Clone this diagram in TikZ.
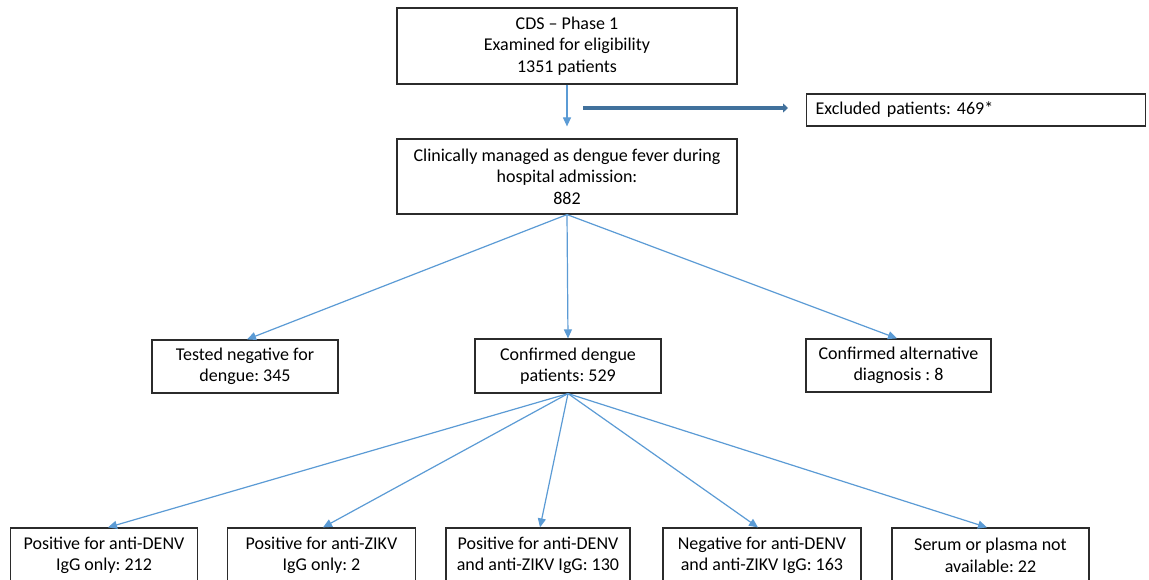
\documentclass[tikz,border=0pt]{standalone}
\usepackage{fontspec}
\setmainfont{Carlito}
\usetikzlibrary{arrows.meta}
\definecolor{arrowblue}{HTML}{5B9BD5}
\definecolor{thickblue}{HTML}{41719C}
\definecolor{boxline}{HTML}{2B2B2B}
\frenchspacing
\begin{document}
\begin{tikzpicture}[x=1pt,y=-1pt,
  box/.style={draw=boxline, line width=1.2pt, fill=white, align=center, inner sep=0pt,
    font=\fontsize{18}{21.5}\selectfont},
  link/.style={draw=arrowblue, line width=1.2pt, -{Triangle[length=9pt,width=8pt]}},
  bigarrow/.style={draw=thickblue, line width=4pt, -{Triangle[length=5pt,width=9pt]}},
]
\useasboundingbox (0,0) rectangle (1149,580);
\clip (0,0) rectangle (1149,580);
\fill[white] (0,0) rectangle (1149,580);

\node[box, minimum width=340pt, minimum height=76pt] (top) at (567,46)
  {CDS – Phase 1\\Examined for eligibility\\1351 patients};
\node[box, minimum width=340pt, minimum height=75pt] (mid) at (567,176.5)
  {Clinically managed as dengue fever during\\hospital admission:\\882};
\node[box, minimum width=339pt, minimum height=32pt, anchor=west, text width=321pt,
  align=left, inner xsep=9pt] (excl) at (806,110) {Excluded patients: 469*};

\node[box, minimum width=186pt, minimum height=53pt] (neg) at (245,366.5)
  {Tested negative for\\dengue: 345};
\node[box, minimum width=186pt, minimum height=54pt] (conf) at (568,366)
  {Confirmed dengue\\patients: 529};
\node[box, minimum width=185pt, minimum height=53pt] (alt) at (898.5,365.5)
  {Confirmed alternative\\diagnosis : 8};

\node[box, minimum width=186.5pt, minimum height=55pt] (b1) at (104,555.5)
  {Positive for anti-DENV\\IgG only: 212};
\node[box, minimum width=187.5pt, minimum height=55pt] (b2) at (321.5,555.5)
  {Positive for anti-ZIKV\\IgG only: 2};
\node[box, minimum width=184pt, minimum height=55pt] (b3) at (538,555.5)
  {Positive for anti-DENV\\and anti-ZIKV IgG: 130};
\node[box, minimum width=198pt, minimum height=55pt] (b4) at (762,555.5)
  {Negative for anti-DENV\\and anti-ZIKV IgG: 163};
\node[box, minimum width=197pt, minimum height=55pt] (b5) at (990.5,555.5)
  {Serum or plasma not\\available: 22};

\draw[link] (top.south) -- ([yshift=12pt]mid.north);
\coordinate (exs) at (583,108);
\draw[bigarrow] (exs) -- ([xshift=-18pt]excl.west |- exs);

\draw[link] (mid.south) -- ([xshift=2pt]neg.north);
\draw[link] (mid.south) -- (conf.north);
\draw[link] (mid.south) -- ([xshift=-1.5pt]alt.north);

\draw[link] (conf.south) -- ([xshift=4pt]b1.north);
\draw[link] (conf.south) -- ([xshift=1.5pt]b2.north);
\draw[link] (conf.south) -- ([xshift=2pt]b3.north);
\draw[link] (conf.south) -- ([xshift=-4pt]b4.north);
\draw[link] (conf.south) -- ([xshift=-3.5pt]b5.north);
\end{tikzpicture}
\end{document}
